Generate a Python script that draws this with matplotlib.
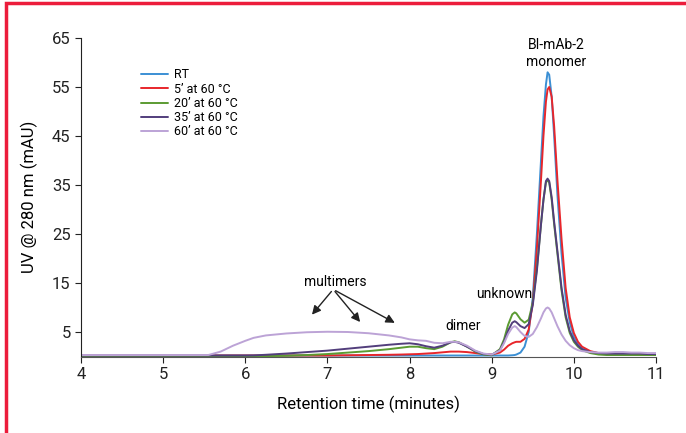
import matplotlib
matplotlib.use("Agg")
import matplotlib.pyplot as plt
from matplotlib.patches import Rectangle
from matplotlib import font_manager

fams = {f.name for f in font_manager.fontManager.ttflist}
base = 'Liberation Sans Narrow' if 'Liberation Sans Narrow' in fams else 'Roboto'
plt.rcParams['font.family'] = [base, 'DejaVu Sans']

# Retention time grid (minutes)
time = [4.0, 5.0, 5.5, 5.55, 5.7, 5.85, 6.0, 6.1, 6.25, 6.5, 6.75, 7.0, 7.25, 7.5, 7.75, 7.9,
        8.0, 8.1, 8.2, 8.3, 8.4, 8.5, 8.55, 8.6, 8.7, 8.8, 8.9, 9.0, 9.1, 9.15, 9.2, 9.25,
        9.28, 9.3, 9.35, 9.4, 9.45, 9.5, 9.55, 9.6, 9.63, 9.66, 9.68, 9.7, 9.73, 9.76, 9.8,
        9.85, 9.9, 9.95, 10.0, 10.05, 10.1, 10.2, 10.3, 10.4, 10.5, 10.6, 10.7, 10.8, 10.9, 11.0]

rt = [0.2, 0.2, 0.2, 0.2, 0.2, 0.2, 0.2, 0.2, 0.2, 0.2, 0.2, 0.2, 0.2, 0.2, 0.2, 0.2,
      0.2, 0.2, 0.2, 0.2, 0.2, 0.2, 0.2, 0.2, 0.2, 0.2, 0.2, 0.2, 0.2, 0.2, 0.2, 0.25,
      0.3, 0.4, 0.8, 2.0, 5.0, 12.0, 25.0, 40.0, 49.0, 55.5, 58.0, 57.5, 53.0, 45.0, 33.0,
      21.0, 12.0, 7.0, 4.0, 2.5, 1.6, 0.9, 0.6, 0.5, 0.5, 0.5, 0.5, 0.5, 0.5, 0.5]

m5 = [0.2, 0.2, 0.2, 0.2, 0.2, 0.2, 0.2, 0.2, 0.2, 0.2, 0.2, 0.2, 0.25, 0.3, 0.35, 0.4,
      0.45, 0.5, 0.6, 0.7, 0.85, 1.0, 1.0, 1.0, 0.9, 0.7, 0.5, 0.4, 0.8, 1.4, 2.2, 2.7,
      2.9, 3.0, 3.0, 3.6, 5.5, 11.0, 22.0, 36.0, 45.0, 52.0, 54.5, 55.0, 53.0, 47.0, 36.0,
      24.0, 14.0, 8.0, 4.8, 3.0, 2.0, 1.1, 0.7, 0.6, 0.6, 0.7, 0.6, 0.5, 0.5, 0.5]

m20 = [0.05, 0.05, 0.05, 0.05, 0.05, 0.05, 0.05, 0.05, 0.08, 0.15, 0.3, 0.5, 0.8, 1.1, 1.5, 1.8,
       2.0, 2.0, 1.7, 1.5, 2.0, 2.9, 3.1, 2.9, 2.0, 1.0, 0.4, 0.25, 1.5, 3.5, 6.5, 8.6,
       9.0, 8.8, 7.6, 6.9, 7.5, 11.0, 18.0, 27.0, 32.0, 35.5, 36.0, 35.5, 32.0, 27.0, 21.0,
       13.5, 8.0, 4.8, 3.0, 2.0, 1.3, 0.7, 0.4, 0.3, 0.3, 0.3, 0.3, 0.3, 0.3, 0.3]

m35 = [0.2, 0.2, 0.2, 0.2, 0.2, 0.2, 0.2, 0.22, 0.35, 0.6, 0.9, 1.2, 1.6, 2.0, 2.4, 2.6,
       2.7, 2.5, 2.1, 1.8, 2.2, 2.9, 3.0, 2.8, 2.0, 1.1, 0.5, 0.35, 1.3, 3.0, 5.3, 6.9,
       7.2, 7.0, 6.2, 5.8, 6.6, 10.5, 17.5, 27.0, 32.0, 35.8, 36.3, 35.8, 32.5, 27.5, 21.5,
       14.0, 8.5, 5.2, 3.3, 2.2, 1.5, 0.9, 0.7, 0.6, 0.6, 0.6, 0.6, 0.6, 0.5, 0.5]

m60 = [0.3, 0.3, 0.3, 0.3, 1.0, 2.2, 3.2, 3.8, 4.3, 4.7, 4.95, 5.05, 5.0, 4.75, 4.3, 3.9,
       3.5, 3.3, 3.2, 2.8, 2.7, 3.0, 3.0, 2.9, 2.2, 1.2, 0.6, 0.4, 1.2, 2.7, 4.6, 5.9,
       6.2, 6.0, 5.0, 4.2, 4.0, 4.6, 6.0, 7.8, 9.0, 9.8, 10.0, 9.8, 9.0, 7.8, 6.2,
       4.5, 3.2, 2.3, 1.7, 1.3, 1.1, 0.9, 0.8, 0.8, 0.9, 0.9, 0.8, 0.8, 0.7, 0.7]

series = [
    ("RT", rt, "#3b8fd4"),
    ("5\u2019 at 60 \u00b0C", m5, "#e8262b"),
    ("20\u2019 at 60 \u00b0C", m20, "#5b9b32"),
    ("35\u2019 at 60 \u00b0C", m35, "#523e7c"),
    ("60\u2019 at 60 \u00b0C", m60, "#bca3d6"),
]

x_ticks = [4, 5, 6, 7, 8, 9, 10, 11]
y_ticks = [5, 15, 25, 35, 45, 55, 65]

fig = plt.figure(figsize=(6.86, 4.33), dpi=100)
ax = fig.add_axes([81/686, 1 - 356.5/433, (656 - 81)/686, (356.5 - 38)/433])

for name, vals, col in series:
    ax.plot(time, vals, color=col, lw=1.4, label=name, solid_capstyle='round')

ax.set_xlim(4, 11)
ax.set_ylim(0, 65)
ax.set_xticks(x_ticks)
ax.set_yticks(y_ticks)
for s in ['top', 'right']:
    ax.spines[s].set_visible(False)
ax.spines['left'].set_color('#222222')
ax.spines['bottom'].set_color('#555555')
ax.tick_params(axis='both', labelsize=12, length=4, width=0.8, colors='#222222')
ax.set_xlabel("Retention time (minutes)", fontsize=12, labelpad=10)
ax.set_ylabel("UV @ 280 nm (mAU)", fontsize=12, labelpad=10)

ax.legend(loc='upper left', bbox_to_anchor=(0.095, 0.92), frameon=False, fontsize=9,
          handlelength=2.2, handletextpad=0.5, labelspacing=0.1, borderaxespad=0)

ax.text(9.78, 61.8, "BI-mAb-2\nmonomer", ha='center', va='center', fontsize=10, linespacing=1.25)
ax.text(9.15, 12.8, "unknown", ha='center', va='center', fontsize=10)
ax.text(8.65, 6.3, "dimer", ha='center', va='center', fontsize=10)
ax.text(7.1, 15.3, "multimers", ha='center', va='center', fontsize=10)
tail = (7.07, 13.7)
for tip in [(6.79, 8.1), (7.42, 6.6), (7.85, 6.6)]:
    ax.annotate("", xy=tip, xytext=tail,
                arrowprops=dict(arrowstyle='-|>', color='#222222', lw=1.0, mutation_scale=13))

fig.patches.append(Rectangle((5.5/686, -0.1), 1.2, 1 - 2.5/433 + 0.1, transform=fig.transFigure,
                             fill=False, edgecolor='#ec1c3b', lw=2.5, clip_on=False))

fig.savefig("out.png", dpi=100)
